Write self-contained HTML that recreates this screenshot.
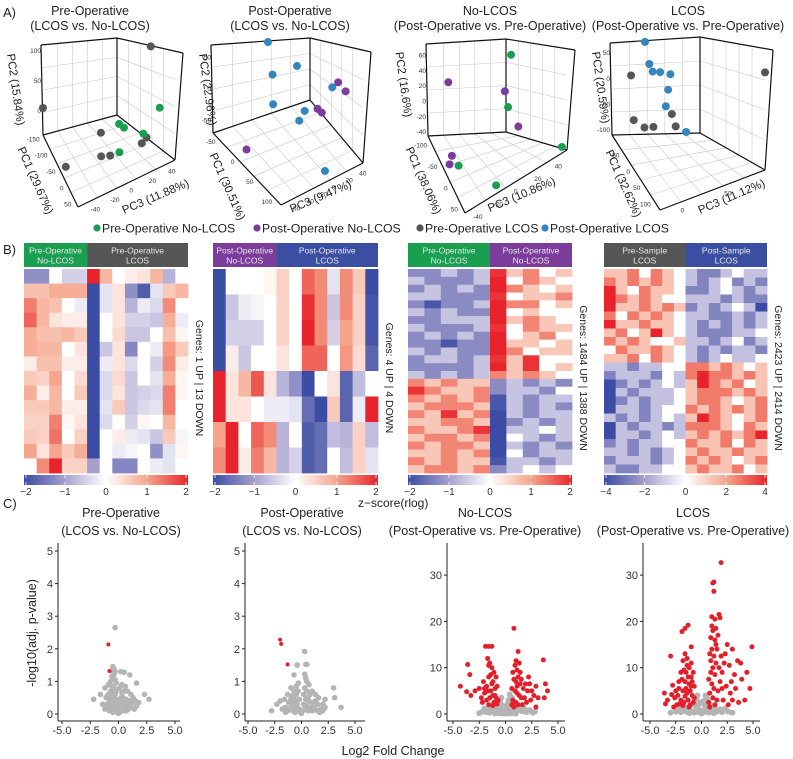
<!DOCTYPE html>
<html><head><meta charset="utf-8">
<style>
html,body{margin:0;padding:0;background:#fff;}
svg{display:block;font-family:"Liberation Sans",Arial,sans-serif;}
</style></head>
<body>
<svg id="fig" width="793" height="759" viewBox="0 0 793 759" xmlns="http://www.w3.org/2000/svg">
<defs>
<linearGradient id="cbar" x1="0" x2="1" y1="0" y2="0">
<stop offset="0" stop-color="#3a4ca3"/><stop offset="0.25" stop-color="#a6a0cf"/><stop offset="0.5" stop-color="#ffffff"/><stop offset="0.75" stop-color="#f5a58b"/><stop offset="1" stop-color="#e8232b"/>
</linearGradient>
</defs>
<text x="3" y="17" font-size="13" fill="#222">A)</text>
<text x="3" y="254" font-size="13" fill="#222">B)</text>
<text x="3" y="508" font-size="13" fill="#222">C)</text>
</svg>
<script>
// ---------- PCA data ----------
const pre_grey_pc1=[-32,-160,-61,42,42,5,27,-17];
const pre_grey_pc2=[118,5,-9,4,10,-9,-1,-15];
const pre_grey_pc3=[50,-50,0,20,25,-15,-10,-50];
const pre_green_pc1=[38,-17,5,49,49];
const pre_green_pc2=[47,19,22,23,11];
const pre_green_pc3=[40,10,10,20,-5];

const post_blue_pc1=[-70,-52,-61,-52,38,2,11,92];
const post_blue_pc2=[49,7,0,-42,20,-29,-34,-67];
const post_blue_pc3=[-2,27,0,-3,37,15,4,3];
const post_purple_pc1=[38,56,2,11,-16];
const post_purple_pc2=[24,18,-34,-36,-70];
const post_purple_pc3=[45,48,32,34,-53];

const nol_purple_pc1=[-120,-102,-66,-66,-57];
const nol_purple_pc2=[23,11,-29,-45,-50];
const nol_purple_pc3=[-19,46,48,-30,-35];
const nol_green_pc1=[-93,-102,60,-48,42];
const nol_green_pc2=[59,-10,-37,-50,-45];
const nol_green_pc3=[50,50,50,-27,-10];

const lc_blue_pc1=[-110,-98,-87,-87,-76,-76,-76,-41];
const lc_blue_pc2=[65,29,20,18,18,-11,-42,-78];
const lc_blue_pc3=[25,27,28,38,48,45,42,57];
const lc_grey_pc1=[120,-110,-98,-87,-87,-64,-64];
const lc_grey_pc2=[75,2,-76,-85,-85,-52,-76];
const lc_grey_pc3=[100,6,6,17,29,46,51];

const pcaTitles=[["Pre-Operative","(LCOS vs. No-LCOS)"],["Post-Operative","(LCOS vs. No-LCOS)"],["No-LCOS","(Post-Operative vs. Pre-Operative)"],["LCOS","(Post-Operative vs. Pre-Operative)"]];
const pcaPct=[["29.67%","15.84%","11.88%"],["30.51%","22.96%","9.47%"],["38.06%","16.6%","10.86%"],["32.62%","20.59%","11.12%"]];
const pc1Ticks=[[-150,-100,-50,0,50],[-50,0,50,100],[-100,-50,0,50],[-50,0,50,100]];
const pc2Ticks=[[0,50,100],[-50,0,50],[-40,-20,0,20,40,60],[-100,-50,0,50]];
const pc3Ticks=[[-40,-20,0,20,40],[-60,-40,-20,0,20,40],[-40,-20,0,20,40],[0,50]];

// ---------- heatmap data ----------
const heat1=[
[-1.2,-1.2,0,-0.5,-0.5,2,0.8,0,0.2,0.3,0.8,-0.8,0],
[0.7,0.7,0.9,0.9,0.9,-2,-0.3,0.3,-1.2,-1.8,-0.3,0.6,0.8],
[1.3,0.8,0.7,0,-0.2,-2,-0.3,0.3,-0.8,-0.2,-0.4,1.2,0],
[1.5,0.8,0.3,0.2,0.2,-2,0,0.3,-0.5,-0.5,-0.6,0.9,-0.2],
[0.9,0.7,0.7,0.8,0.6,-2,0,0.4,-0.6,-0.6,0,0.7,0.1],
[0.9,0.8,0.8,0,0.3,-2,-0.6,0.3,-1.3,0,-0.2,1.1,0.6],
[0.2,0.7,0.7,0.2,0.2,-2,-0.2,0.3,-0.4,0,-0.5,1.2,0.2],
[0.6,0.5,1.0,0,0.4,-2,-0.4,0.4,-0.6,0,-0.3,0.9,0.1],
[0.9,0.2,0.8,0,0.6,-2,-0.4,0.3,-0.6,-0.5,-0.4,1.3,0.1],
[0.6,0.6,0.8,0.2,0.2,-2,-0.3,0.6,-0.6,-0.4,-0.3,1.3,0],
[0.5,0.5,1.3,0.1,0.3,-2,-0.4,0,-0.5,0.1,0,0.8,0],
[0.6,0.5,1.4,0,0.5,-2,0,0.2,-0.2,-0.3,-0.6,0.6,-0.1],
[1.0,0.3,1.0,0.6,0.9,-2,0,-0.2,-0.1,0,-1.2,-0.3,0.1],
[0,1.2,2.0,0.5,0.5,-1,0,-1.3,-1.3,0,-0.2,-0.3,0]];
const heat2=[
[-2,0,0,0,0.1,0.5,0,1.5,1.2,-0.3,1.2,0.6,-2],
[-2,-0.6,-0.2,-0.1,0,0.5,0,1.9,1.2,-0.6,1.2,0.5,-1.9],
[-2,-0.5,-0.5,-0.5,0,0.5,0,2,1.2,-0.5,1.0,0.5,-1.9],
[-2,0.2,-0.6,0,0,0.3,0,1.5,1.5,0,1.1,0.4,-1.7],
[2,0.3,0.8,1.6,0.3,-0.8,-1.2,-2,0,0.3,-1.7,-0.7,0],
[2,0.3,0.3,0,-0.2,-0.2,-0.3,-1.6,-2,0.6,-1.7,-0.2,2],
[1.0,2,0,1.5,1.2,-0.8,0,-1.8,-1.6,-0.7,-0.8,0.5,-0.7],
[1.2,2,0.2,1.3,0.8,-0.8,-0.5,-1.8,-1.6,0,-0.7,0.5,-0.3]];
// letter-coded rows: a..i = -4..+4
const heat3Rows=["ccdcdhfgef","dcccdiegfe","cdcdcigfef","ddcccheffg","cbccdiggef","dcdcciefee","ccdddifgfe","dcccdhegff","cdcdciefge","ccbcciffef","dcdccigeff","cddcdhfhee","ccccdifhef","dcdcdgfgfe","gfgffcdcdc","hgffgcddce","gfgfgbdcdd","fgggfbdcdc","gfhfgadcdd","ffggfacdcd","gffghadded","fggfgaedcd","gfggfadcdc","ffgfgaecdd","gfgffbddcd","fggfgcdede"];
const heat4Rows=["ffgegfedccdedd","gfgfgfedcdecdc","hfegffeccdedcd","hgfgfeedddcdcc","hffgfgfcdcdedb","gegfgfeddccdcd","hffgffedcdcdcd","fgefhfedcccdde","gfgfeefddcdecd","egffgfedcdcddc","ffgegfedcdedde","ddcddeeggfgfef","cdddcedghggfgf","bcdcdedfhgfgef","adcdddefgggfgf","acdcddefggfefg","bddcdeegfgfgfg","dcdcdedfhgfefg","adcddcdgggfegf","bddcdedfgfgfgh","cdcddeegffgegf","ddcdcdefgffgff","cdddcdegfgfefg","dccddeefgffgef"];
const cbTicks12=[-2,-1,0,1,2];
const cbTicks4=[-4,-2,0,2,4];

// ---------- volcano data [log2FC, -log10 p] ----------
const v1_gray=[[-0.3,2.65],[-0.5,1.45],[-0.4,1.38],[-0.5,1.3],[-0.3,1.3],[0.2,1.3],[0.5,1.28],[1.0,1.2],[1.6,0.95],[2.3,0.6],[2.7,0.45],[-2.2,0.45],[-1.6,0.6],[-1.2,0.8],[-1.0,0.55],[-0.9,0.9],[-0.7,1.0],[-0.6,1.15],[-0.5,1.1],[-0.4,1.2],[-0.3,1.05],[-0.2,0.95],[0.1,0.8],[0.3,0.9],[0.6,0.85],[0.8,0.7],[1.1,0.6],[1.3,0.5],[1.5,0.4],[1.8,0.35],[-1.4,0.3],[-1.2,0.15],[-1.0,0.3],[-0.9,0.6],[-0.8,0.1],[-0.8,0.4],[-0.7,0.7],[-0.6,0.2],[-0.6,0.5],[-0.6,0.85],[-0.5,0.05],[-0.5,0.35],[-0.5,0.65],[-0.4,0.15],[-0.4,0.5],[-0.4,0.8],[-0.3,0.3],[-0.3,0.6],[-0.2,0.1],[-0.2,0.45],[-0.2,0.7],[-0.1,0.05],[-0.1,0.3],[0,0.02],[0,0.2],[0.1,0.05],[0.1,0.35],[0.2,0.15],[0.2,0.5],[0.3,0.1],[0.3,0.35],[0.3,0.65],[0.4,0.2],[0.4,0.5],[0.5,0.1],[0.5,0.4],[0.5,0.7],[0.6,0.25],[0.7,0.1],[0.7,0.45],[0.8,0.3],[0.9,0.15],[1.0,0.4],[1.1,0.2],[1.2,0.35],[1.4,0.15],[1.6,0.25],[-1.1,0.5],[-0.9,0.2],[-0.7,0.3]];
const v1_red=[[-0.9,2.13],[-0.8,1.32]];
const v2_gray=[[0.3,1.92],[0.4,1.52],[0.5,1.52],[-0.4,1.5],[-0.7,1.2],[0.3,1.22],[0.4,1.1],[-1.0,0.8],[-1.3,0.6],[-1.6,0.45],[-2.0,0.4],[-2.3,0.3],[-2.8,0.1],[3.0,0.8],[3.1,0.5],[3.7,0.2],[2.2,0.45],[2.0,0.3],[1.6,0.5],[1.3,0.6],[1.0,0.7],[0.7,0.9],[0.5,1.0],[-0.3,0.95],[-0.5,0.85],[-0.7,0.7],[-0.9,0.55],[-1.8,0.15],[-1.5,0.2],[-1.3,0.1],[-1.2,0.35],[-1.0,0.2],[-1.0,0.45],[-0.8,0.1],[-0.8,0.35],[-0.7,0.5],[-0.6,0.2],[-0.5,0.4],[-0.5,0.6],[-0.4,0.1],[-0.4,0.3],[-0.3,0.7],[-0.2,0.15],[-0.2,0.45],[-0.1,0.05],[0,0.02],[0.1,0.1],[0.2,0.3],[0.2,0.6],[0.3,0.8],[0.3,0.15],[0.4,0.45],[0.5,0.25],[0.5,0.7],[0.6,0.1],[0.7,0.4],[0.8,0.2],[0.8,0.6],[1.0,0.1],[1.0,0.35],[1.2,0.2],[1.3,0.4],[1.5,0.1],[1.5,0.3],[1.8,0.15],[2.0,0.1],[2.2,0.2],[-1.5,0.05],[1.7,0.05],[-0.6,0.05],[0.6,0.5]];
const v2_red=[[-2.0,2.28],[-1.9,2.15],[-1.3,1.52]];
const v3_gray=[[-2.2,0.5],[-2.0,1.2],[-1.8,0.4],[-1.6,1.3],[-1.5,0.3],[-1.3,1.0],[-1.2,2.0],[-1.0,0.5],[-0.9,1.5],[-0.8,2.8],[-0.7,0.4],[-0.6,1.5],[-0.5,2.5],[-0.4,3.5],[-0.4,0.8],[-0.3,1.8],[-0.2,0.6],[-0.1,0.3],[0,0.1],[0.1,0.4],[0.2,0.8],[0.3,1.5],[0.3,3.0],[0.4,0.6],[0.4,4.2],[0.5,2.0],[0.6,3.5],[0.7,1.0],[0.8,2.5],[0.9,0.5],[1.0,1.5],[1.2,0.8],[1.4,1.6],[1.6,0.6],[1.8,1.2],[2.0,0.4],[2.3,0.8],[2.6,0.3],[-0.6,0.2],[0.6,0.2],[-1.0,0.1],[1.0,0.1],[-0.3,0.1],[0.3,0.1],[-2.5,0.2],[2.8,0.5],[-0.5,1.0],[0.5,1.0],[-0.2,1.2],[0.2,2.2]];
const v3_red=[[-4.3,6.0],[-3.6,10.7],[-3.4,8.5],[-3.7,4.8],[-3.3,4.0],[-2.9,5.0],[-2.5,5.5],[-2.3,3.5],[-2.1,7.0],[-1.9,14.6],[-1.6,14.6],[-1.3,14.6],[-1.7,12.0],[-1.5,11.0],[-1.3,10.0],[-1.1,9.0],[-2.0,4.5],[-1.8,6.0],[-1.6,8.0],[-1.4,5.0],[-1.2,7.0],[-1.0,4.0],[-0.8,6.0],[-0.7,3.0],[-0.9,8.0],[-1.5,3.5],[-1.1,2.5],[-1.8,3.0],[-1.3,6.5],[-1.0,5.5],[-0.8,2.2],[-1.6,2.0],[-1.2,4.0],[-2.2,2.5],[-1.4,8.5],[-1.7,5.0],[-1.2,1.8],[-0.9,3.5],[-2.0,5.5],[-1.6,10.5],[0.8,18.5],[1.2,13.5],[1.0,11.5],[1.3,11.0],[0.9,10.5],[0.7,9.0],[1.1,9.5],[0.8,7.5],[1.0,7.0],[1.2,8.0],[1.4,6.5],[0.6,5.5],[0.9,5.0],[1.1,4.5],[1.3,4.0],[0.7,3.0],[1.0,2.5],[1.5,3.5],[1.7,5.5],[1.9,6.5],[2.1,5.0],[2.3,6.5],[2.5,5.0],[2.7,4.0],[2.9,6.0],[3.1,3.5],[2.4,3.0],[2.0,2.5],[1.8,3.5],[1.6,2.0],[3.6,11.7],[3.8,6.5],[4.0,5.0],[3.7,3.5],[2.9,1.5],[1.2,2.0],[0.8,1.5],[1.5,7.5],[2.2,8.0],[1.4,9.0],[0.6,2.0],[1.1,6.0]];
const v4_gray=[[-2.5,0.5],[-2.2,1.5],[-2.0,0.4],[-1.8,1.0],[-1.5,0.5],[-1.3,1.5],[-1.0,0.6],[-0.8,2.0],[-0.6,3.0],[-0.5,1.0],[-0.4,4.0],[-0.3,2.0],[-0.2,0.8],[-0.1,0.3],[0,0.1],[0.1,0.3],[0.2,0.8],[0.3,2.0],[0.4,4.0],[0.5,1.0],[0.6,3.0],[0.8,2.0],[1.0,0.6],[1.3,1.5],[1.5,0.5],[1.8,1.0],[2.0,0.4],[2.3,1.2],[2.6,0.5],[3.0,0.3],[-3.0,0.3],[-0.7,0.3],[0.7,0.3],[-1.2,0.2],[1.2,0.2],[-0.4,0.5],[0.4,0.5],[-0.2,2.5],[0.2,2.8],[-0.5,3.5],[0.5,3.5]];
const v4_red=[[-3.0,12.5],[-1.9,17.8],[-1.6,18.5],[-1.3,19.2],[-1.0,14.5],[-3.6,4.5],[-3.3,3.0],[-3.5,2.2],[-2.8,6.2],[-2.5,5.0],[-2.6,3.5],[-2.2,7.0],[-2.0,9.0],[-1.8,11.5],[-1.6,13.0],[-1.4,12.0],[-1.2,10.0],[-1.0,11.0],[-0.8,9.0],[-0.7,6.0],[-2.3,4.0],[-2.0,3.0],[-1.8,5.0],[-1.6,7.0],[-1.4,4.5],[-1.2,6.5],[-1.0,8.0],[-0.9,4.0],[-0.8,2.5],[-1.5,9.0],[-1.7,2.5],[-1.3,3.0],[-1.1,2.0],[-2.1,2.2],[-1.9,7.5],[-1.5,5.5],[-1.1,5.0],[-0.7,3.5],[-2.4,2.0],[-2.7,1.5],[-1.3,8.0],[-1.7,9.5],[-1.0,6.0],[-1.6,3.8],[-1.2,1.5],[-0.9,7.0],[-2.9,4.2],[-1.4,10.5],[-2.2,5.5],[-1.8,1.8],[1.9,32.7],[1.1,28.3],[1.2,28.5],[1.2,26.5],[1.7,21.5],[1.8,20.8],[1.0,21.0],[1.3,20.5],[1.1,18.0],[1.3,16.0],[0.9,16.5],[1.0,14.0],[1.2,12.5],[0.8,13.0],[1.4,11.0],[1.1,10.0],[0.9,9.0],[1.3,8.5],[0.7,7.5],[1.0,6.5],[1.2,5.5],[0.8,4.5],[1.1,3.5],[0.7,2.5],[1.5,3.0],[1.6,5.0],[1.8,7.0],[2.0,9.0],[2.2,11.0],[1.9,12.5],[2.5,15.0],[3.0,14.0],[3.5,11.5],[4.9,14.5],[4.7,5.5],[4.2,3.0],[3.6,2.5],[3.9,7.5],[4.4,9.0],[2.7,10.5],[3.2,8.5],[2.4,6.0],[2.8,4.5],[3.3,5.5],[2.1,3.0],[2.6,2.0],[1.5,14.0],[1.6,17.0],[1.4,18.5],[1.7,10.0],[2.3,13.0],[2.0,5.5],[3.8,11.0],[3.0,3.0],[1.3,2.0],[0.8,1.5],[1.0,19.0],[1.4,15.0],[0.9,11.5],[2.9,7.0]];
const xTicks=[-5,-2.5,0,2.5,5];
const yTicksSmall=[0,1,2,3,4,5];
const yTicksBig=[0,10,20,30];

const NS="http://www.w3.org/2000/svg";
const svg=document.getElementById("fig");
function mk(tag,attrs,parent){const e=document.createElementNS(NS,tag);for(const k in attrs)e.setAttribute(k,attrs[k]);(parent||svg).appendChild(e);return e;}
function txt(x,y,s,size,anchor,parent,fill){const t=mk("text",{x:x,y:y,"font-size":size,"text-anchor":anchor||"start",fill:fill||"#222"},parent);t.textContent=s;return t;}

const GREEN="#1a9e50",PURPLE="#7b3c9c",GREY="#555555",BLUE="#3585c0";

// ---------- PCA panels ----------
const boxes=[
{B:[117,115],L:[43,135],R:[175,160],F:[78,207],HB:77,HL:90,HR:107,Hp:90,r1:[-160,60],r3:[50,-50],r2:[-40,110],cx:90,t2:[12,90],t1:[32,182],t3:[157,200]},
{B:[310,100],L:[213,133],R:[363,163],F:[281,205],HB:62,HL:88,HR:111,Hp:85,r1:[-70,110],r3:[50,-70],r2:[-70,70],cx:290,t2:[204,90],t1:[224,188],t3:[322,200]},
{B:[506,132],L:[428,136],R:[567,150],F:[465,213],HB:93,HL:92,HR:100,Hp:93,r1:[-120,60],r3:[55,-45],r2:[-45,75],cx:490,t2:[400,85],t1:[420,182],t3:[523,198]},
{B:[700,133],L:[612,135],R:[765,170],F:[660,210],HB:96,HL:92,HR:120,Hp:95,r1:[-110,120],r3:[100,-20],r2:[-110,70],cx:688,t2:[597,88],t1:[620,185],t3:[733,200]}];
const pcaSeries=[
[[pre_grey_pc1,pre_grey_pc2,pre_grey_pc3,GREY,"pre-op-lcos"],[pre_green_pc1,pre_green_pc2,pre_green_pc3,GREEN,"pre-op-no-lcos"]],
[[post_blue_pc1,post_blue_pc2,post_blue_pc3,BLUE,"post-op-lcos"],[post_purple_pc1,post_purple_pc2,post_purple_pc3,PURPLE,"post-op-no-lcos"]],
[[nol_purple_pc1,nol_purple_pc2,nol_purple_pc3,PURPLE,"post-op-no-lcos"],[nol_green_pc1,nol_green_pc2,nol_green_pc3,GREEN,"pre-op-no-lcos"]],
[[lc_blue_pc1,lc_blue_pc2,lc_blue_pc3,BLUE,"post-op-lcos"],[lc_grey_pc1,lc_grey_pc2,lc_grey_pc3,GREY,"pre-op-lcos"]]];

function bil(P,a,b){const e0=P.F[0]-P.L[0]-P.R[0]+P.B[0],e1=P.F[1]-P.L[1]-P.R[1]+P.B[1];
return [P.B[0]+a*(P.L[0]-P.B[0])+b*(P.R[0]-P.B[0])+a*b*e0, P.B[1]+a*(P.L[1]-P.B[1])+b*(P.R[1]-P.B[1])+a*b*e1];}
function wallH(P,a,b){return P.HB+a*(P.HL-P.HB)+b*(P.HR-P.HB);}
function proj(P,pc1,pc2,pc3){const b=(pc1-P.r1[0])/(P.r1[1]-P.r1[0]);const a=(pc3-P.r3[0])/(P.r3[1]-P.r3[0]);const h=(pc2-P.r2[0])/(P.r2[1]-P.r2[0]);const f=bil(P,a,b);return [f[0],f[1]-h*P.Hp];}
function line(g,p,q,col,w){return mk("line",{x1:p[0],y1:p[1],x2:q[0],y2:q[1],stroke:col,"stroke-width":w},g);}

boxes.forEach((P,i)=>{
  const g=mk("g",{});
  
  
  const t1=txt(P.cx,15,pcaTitles[i][0],12.5,"middle",g);
  
  
  const t2=txt(P.cx,30,pcaTitles[i][1],12.5,"middle",g);
  
  
  const grid=mk("g",{},g);
  
  
  const fr=[0.2,0.4,0.6,0.8];
  fr.forEach(t=>{
    line(grid,bil(P,t,0),bil(P,t,1),"#c8c8c8",0.6);
    line(grid,bil(P,0,t),bil(P,1,t),"#c8c8c8",0.6);
    let f=bil(P,t,0);line(grid,f,[f[0],f[1]-wallH(P,t,0)],"#c8c8c8",0.6);
    f=bil(P,0,t);line(grid,f,[f[0],f[1]-wallH(P,0,t)],"#c8c8c8",0.6);
  });
  [0.25,0.5,0.75].forEach(s=>{
    const l=bil(P,1,0),b=bil(P,0,0),r=bil(P,0,1);
    line(grid,[l[0],l[1]-s*P.HL],[b[0],b[1]-s*P.HB],"#c8c8c8",0.6);
    line(grid,[b[0],b[1]-s*P.HB],[r[0],r[1]-s*P.HR],"#c8c8c8",0.6);
  });
  const box=mk("g",{},g);
  
  
  const B=P.B,L=P.L,R=P.R,F=P.F;
  const Bt=[B[0],B[1]-P.HB],Lt=[L[0]-2,L[1]-P.HL],Rt=[R[0]+8,R[1]-P.HR];
  [[B,L],[L,F],[F,R],[R,B],[L,Lt],[B,Bt],[R,Rt],[Lt,Bt],[Bt,Rt]].forEach(s=>line(box,s[0],s[1],"#111",1.2));
  pc2Ticks[i].forEach(v=>{const h=(v-P.r2[0])/(P.r2[1]-P.r2[0]);const t=txt(L[0]-2,L[1]-h*P.HL+2,String(v),6.5,"end",g,"#333");});
  pc1Ticks[i].forEach(v=>{const b=(v-P.r1[0])/(P.r1[1]-P.r1[0]);const p=bil(P,1,b);const t=txt(p[0]-5,p[1]+3,String(v),6.5,"end",g,"#333");});
  pc3Ticks[i].forEach(v=>{const a=(v-P.r3[0])/(P.r3[1]-P.r3[0]);const p=bil(P,a,1);const t=txt(p[0]+3,p[1]+9,String(v),6.5,"start",g,"#333");});
  const a2=txt(0,0,"PC2 ("+pcaPct[i][1]+")",11.5,"middle",g);
  a2.setAttribute("transform","translate("+P.t2[0]+","+P.t2[1]+") rotate(82)");
  
  
  const a1=txt(0,0,"PC1 ("+pcaPct[i][0]+")",11.5,"middle",g);
  a1.setAttribute("transform","translate("+P.t1[0]+","+P.t1[1]+") rotate(66)");
  
  
  const a3=txt(0,0,"PC3 ("+pcaPct[i][2]+")",11.5,"middle",g);
  a3.setAttribute("transform","translate("+P.t3[0]+","+P.t3[1]+") rotate(-23)");
  
  
  pcaSeries[i].forEach(S=>{
    S[0].forEach((v,k)=>{const p=proj(P,S[0][k],S[1][k],S[2][k]);
      const c=mk("circle",{cx:p[0],cy:p[1],r:4,fill:S[3]},g);
      
      });
  });
});

// legend
const legend=[[97,"Pre-Operative No-LCOS",GREEN],[257,"Post-Operative No-LCOS",PURPLE],[420,"Pre-Operative LCOS",GREY],[545,"Post-Operative LCOS",BLUE]];
legend.forEach(l=>{
  const g=mk("g",{});
  
  
  mk("circle",{cx:l[0],cy:228,r:3.6,fill:l[2]},g);
  txt(l[0]+5,232.5,l[1],12.3,"start",g);
});

// ---------- heatmaps ----------
const stops=[[-1,[58,76,163]],[-0.5,[166,160,207]],[0,[255,255,255]],[0.5,[245,165,139]],[1,[232,35,43]]];
function hcol(v){v=Math.max(-1,Math.min(1,v));for(let i=0;i<stops.length-1;i++){const a=stops[i],b=stops[i+1];if(v<=b[0]){const t=(v-a[0])/(b[0]-a[0]);const c=a[1].map((x,j)=>Math.round(x+(b[1][j]-x)*t));return "rgb("+c.join(",")+")";}}return "rgb(232,35,43)";}
function decode(rows){return rows.map(r=>r.split("").map(ch=>ch.charCodeAt(0)-101));}
const heatPanels=[
{x0:24,x1:188,data:heat1,max:2,split:5,h:[["Pre-Operative","No-LCOS",GREEN],["Pre-Operative","LCOS",GREY]],ticks:cbTicks12,label:"Genes: 1 UP | 13 DOWN",lx:196},
{x0:213,x1:378,data:heat2,max:2,split:5,h:[["Post-Operative","No-LCOS",PURPLE],["Post-Operative","LCOS","#3a4fa2"]],ticks:cbTicks12,label:"Genes: 4 UP | 4 DOWN",lx:386},
{x0:408,x1:572,data:decode(heat3Rows).map(r=>r.map(v=>v/2)),max:1.6,split:5,h:[["Pre-Operative","No-LCOS",GREEN],["Post-Operative","No-LCOS",PURPLE]],ticks:cbTicks12,label:"Genes: 1484 UP | 1388 DOWN",lx:580},
{x0:604,x1:767,data:decode(heat4Rows),max:3,split:7,h:[["Pre-Sample","LCOS",GREY],["Post-Sample","LCOS","#3a4fa2"]],ticks:cbTicks4,label:"Genes: 2423 UP | 2414 DOWN",lx:775}];
const HY0=269,HY1=473;
heatPanels.forEach((H,i)=>{
  const g=mk("g",{});
  
  
  const nc=H.data[0].length,nr=H.data.length,cw=(H.x1-H.x0)/nc,rh=(HY1-HY0)/nr;
  const xs=H.x0+cw*H.split;
  const h1=mk("rect",{x:H.x0,y:243,width:xs-H.x0,height:24,fill:H.h[0][2]},g);
  
  
  const h2=mk("rect",{x:xs,y:243,width:H.x1-xs,height:24,fill:H.h[1][2]},g);
  
  
  [[H.x0,xs,H.h[0]],[xs,H.x1,H.h[1]]].forEach(s=>{
    txt((s[0]+s[1])/2,253.5,s[2][0],8.5,"middle",g,"#e8e8e8");
    txt((s[0]+s[1])/2,263.5,s[2][1],8.5,"middle",g,"#e8e8e8");
  });
  H.data.forEach((row,r)=>row.forEach((v,c)=>{
    const cell=mk("rect",{x:H.x0+c*cw,y:HY0+r*rh,width:cw+0.4,height:rh+0.4,fill:hcol(v/H.max)},g);
    
    
  }));
  const cb=mk("rect",{x:H.x0,y:475,width:H.x1-H.x0,height:10,fill:"url(#cbar)"},g);
  
  
  const tmax=H.ticks[H.ticks.length-1];
  H.ticks.forEach(v=>{const x=H.x0+(v+tmax)/(2*tmax)*(H.x1-H.x0)+(v===-tmax?2:(v===tmax?-2:0));
    line(g,[x,475],[x,478],"#fff",0.8);line(g,[x,482],[x,485],"#fff",0.8);
    const t=txt(x,495,(v<0?"\u2212":"")+Math.abs(v),10,"middle",g,"#333");
    
    });
  const lab=txt(0,0,H.label,10.5,"middle",g);
  lab.setAttribute("transform","translate("+H.lx+",378) rotate(90)");
  
  
});
const zs=txt(358,507,"z\u2212score(rlog)",12,"start");



// ---------- volcano plots ----------
const volc=[
{zx:118.5,sx:11.3,ax:58,xe:180,sy:32.6,yt:yTicksSmall,gray:v1_gray,red:v1_red,cx:121,t:["Pre-Operative","(LCOS vs. No-LCOS)"],gr:2.8,rr:2},
{zx:301.5,sx:10.7,ax:245,xe:365,sy:32.6,yt:yTicksSmall,gray:v2_gray,red:v2_red,cx:302,t:["Post-Operative","(LCOS vs. No-LCOS)"],gr:2.8,rr:2},
{zx:505.5,sx:10.5,ax:447,xe:565,sy:4.63,yt:yTicksBig,gray:v3_gray,red:v3_red,cx:485,t:["No-LCOS","(Post-Operative vs. Pre-Operative)"],gr:3,rr:2.5},
{zx:701.5,sx:10.3,ax:643,xe:760,sy:4.63,yt:yTicksBig,gray:v4_gray,red:v4_red,cx:693,t:["LCOS","(Post-Operative vs. Pre-Operative)"],gr:3,rr:2.5}];
const Y0=714,XAY=721;
volc.forEach((V,i)=>{
  const g=mk("g",{});
  
  
  const a=txt(V.cx,517,V.t[0],12.5,"middle",g);
  
  
  const b=txt(V.cx,535,V.t[1],12.5,"middle",g);
  
  
  const X=fc=>V.zx+fc*V.sx, Y=p=>Y0-p*V.sy;
  V.gray.forEach(d=>{const c=mk("circle",{cx:X(d[0]),cy:Y(d[1]),r:V.gr,fill:"#b4b4b4"},g);
    
    });
  V.red.forEach(d=>{const c=mk("circle",{cx:X(d[0]),cy:Y(d[1]),r:V.rr,fill:"#e3202a"},g);
    
    });
  const ya=line(g,[V.ax,543],[V.ax,XAY],"#222",1);
  
  
  const xa=line(g,[V.ax,XAY],[V.xe,XAY],"#222",1);
  
  
  V.yt.forEach(v=>{line(g,[V.ax-3,Y(v)],[V.ax,Y(v)],"#222",1);
    const t=txt(V.ax-5,Y(v)+4,String(v),11,"end",g,"#333");
    
    });
  xTicks.forEach(v=>{line(g,[X(v),XAY],[X(v),XAY+3],"#222",1);
    const t=txt(X(v),734,v.toFixed(1),11,"middle",g,"#333");
    
    });
});
const yt=txt(0,0,"-log10(adj. p-value)",12.5,"middle");
yt.setAttribute("transform","translate(36,633) rotate(-90)");


const xt=txt(393,755,"Log2 Fold Change",12.5,"middle");


</script>
</body></html>
